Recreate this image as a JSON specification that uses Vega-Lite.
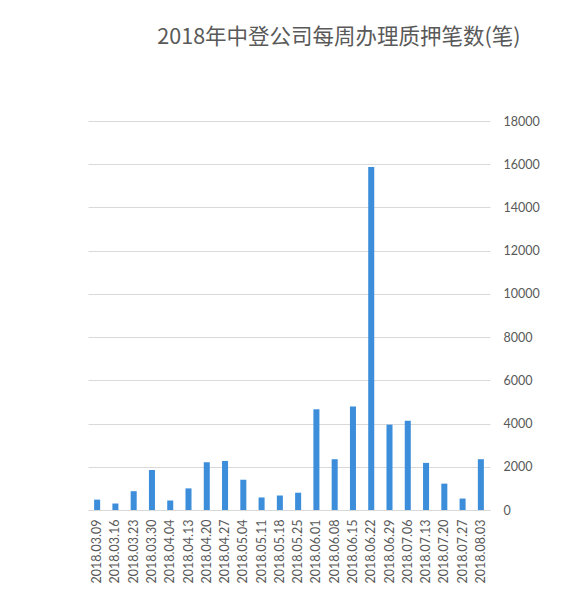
{
  "$schema": "https://vega.github.io/schema/vega-lite/v6.json",
  "description": "2018年中登公司每周办理质押笔数(笔) - weekly pledge count bar chart",
  "autosize": {"type": "none"},
  "width": 402,
  "height": 389,
  "padding": {"left": 88, "top": 121, "right": 90, "bottom": 87},
  "background": "white",
  "title": {
    "text": "2018年中登公司每周办理质押笔数(笔)",
    "font": "Noto Sans CJK SC",
    "fontSize": 21.5,
    "fontWeight": "normal",
    "color": "#595959",
    "anchor": "middle",
    "dx": 50,
    "offset": 67
  },
  "data": {
    "values": [
      {"week": "2018.03.09", "count": 480},
      {"week": "2018.03.16", "count": 300},
      {"week": "2018.03.23", "count": 870},
      {"week": "2018.03.30", "count": 1850},
      {"week": "2018.04.04", "count": 440},
      {"week": "2018.04.13", "count": 1000},
      {"week": "2018.04.20", "count": 2210},
      {"week": "2018.04.27", "count": 2270},
      {"week": "2018.05.04", "count": 1400},
      {"week": "2018.05.11", "count": 580},
      {"week": "2018.05.18", "count": 670},
      {"week": "2018.05.25", "count": 800},
      {"week": "2018.06.01", "count": 4660},
      {"week": "2018.06.08", "count": 2350},
      {"week": "2018.06.15", "count": 4790},
      {"week": "2018.06.22", "count": 15870},
      {"week": "2018.06.29", "count": 3950},
      {"week": "2018.07.06", "count": 4130},
      {"week": "2018.07.13", "count": 2180},
      {"week": "2018.07.20", "count": 1220},
      {"week": "2018.07.27", "count": 530},
      {"week": "2018.08.03", "count": 2350}
    ]
  },
  "mark": {"type": "bar", "color": "#3c8edb"},
  "encoding": {
    "x": {
      "field": "week",
      "type": "nominal",
      "sort": null,
      "title": null,
      "scale": {"paddingInner": 0.67, "paddingOuter": 0.335},
      "axis": {
        "labelAngle": -90,
        "labelFont": "Lato",
        "labelFontSize": 12.5,
        "labelColor": "#595959",
        "labelPadding": 9,
        "ticks": false,
        "domainColor": "#d9d9d9",
        "domainWidth": 1.2,
        "grid": false
      }
    },
    "y": {
      "field": "count",
      "type": "quantitative",
      "title": null,
      "scale": {"domain": [0, 18000], "nice": false},
      "axis": {
        "orient": "right",
        "values": [0, 2000, 4000, 6000, 8000, 10000, 12000, 14000, 16000, 18000],
        "format": "d",
        "labelFont": "Lato",
        "labelFontSize": 12.5,
        "labelColor": "#595959",
        "labelPadding": 13,
        "ticks": false,
        "domain": false,
        "grid": true,
        "gridColor": "#d9d9d9",
        "gridWidth": 1.2
      }
    }
  },
  "config": {"view": {"stroke": null}}
}
